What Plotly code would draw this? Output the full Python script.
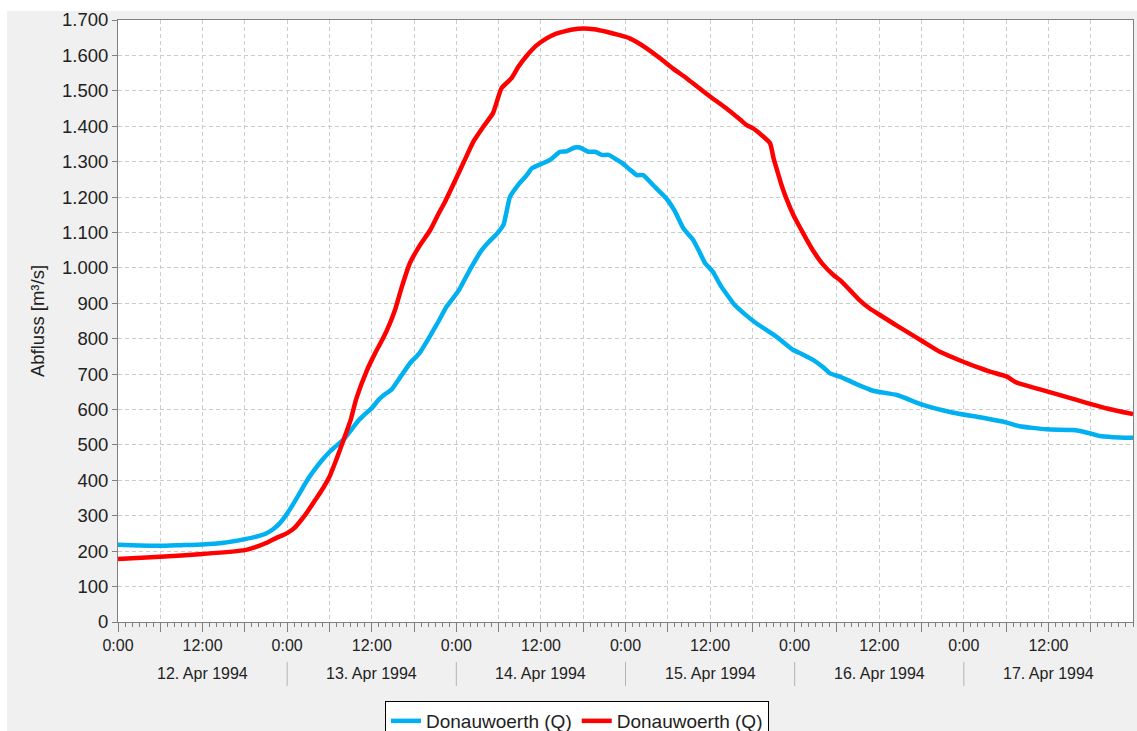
import pandas as pd
import plotly.graph_objects as go

# ---- data (hours since 12 Apr 1994 0:00, discharge m³/s) ----
blue_hours = [0, 3, 6, 9, 12, 15, 18, 20, 21, 22, 23, 24, 25, 26, 27, 28, 29, 30, 31, 32, 33, 34, 35, 36,
              37, 38, 38.8, 40, 41.4, 42.8, 44.2, 45.5, 46.6, 48.3, 49.9, 51.6, 52.7, 53.7, 54.7, 55.6,
              57.0, 58.0, 58.7, 60.0, 61.3, 62.2, 62.7, 63.6, 64.8, 65.5, 66.7, 67.7, 68.6, 69.6, 70.8,
              71.6, 72.6, 73.6, 74.5, 76.0, 77.8, 79.0, 80.2, 81.6, 82.5, 83.3, 84.4, 85.5, 87.5, 89.0,
              90.6, 93.4, 95.8, 97.0, 98.6, 100.0, 101.0, 102.4, 104.3, 107.1, 110.5, 114.2, 118.5,
              122.3, 126.1, 127.9, 131.7, 135.5, 137.4, 139.3, 141.2, 144]
blue_q = [218, 216, 215, 217, 219, 224, 234, 243, 250, 262, 280, 306, 338, 372, 405, 433, 458, 480, 498, 515,
          540, 566, 586, 604, 628, 645, 656, 690, 730, 760, 805, 850, 890, 935, 994, 1050, 1075, 1095, 1122,
          1200, 1240, 1262, 1281, 1293, 1305, 1320, 1328, 1329, 1340, 1340, 1328, 1328, 1319, 1319, 1305,
          1295, 1278, 1262, 1262, 1232, 1196, 1160, 1112, 1079, 1045, 1013, 989, 950, 895, 868, 843, 806,
          768, 757, 740, 720, 702, 693, 676, 653, 641, 613, 591, 578, 563, 553, 544, 542, 535, 525, 522, 520]

red_hours = [0, 6, 12, 18, 20, 21, 22, 23, 24, 25, 26, 27, 28, 29, 30, 31, 32, 33, 33.8, 35.3, 36.5, 37.6,
             38.5, 39.3, 40.2, 41.4, 42.8, 44.3, 45.4, 46.4, 48.1, 49.2, 50.4, 51.8, 53.2, 54.4, 55.8, 56.8,
             57.9, 59.3, 60.8, 62.0, 63.2, 64.5, 66.0, 67.5, 69.3, 71.0, 72.6, 75.0, 76.9, 78.8, 80.7, 82.3,
             84.0, 86.2, 88.3, 89.2, 90.1, 91.3, 92.5, 93.0, 93.5, 94.2, 94.9, 95.8, 96.7, 97.7, 98.7, 100.0,
             101.5, 102.4, 103.8, 105.2, 106.6, 108.1, 110.0, 111.9, 114.2, 116.6, 119.9, 121.9, 123.7,
             126.1, 127.5, 130.8, 135.5, 140.3, 144]
red_q = [178, 184, 192, 203, 215, 223, 233, 242, 251, 265, 288, 315, 345, 375, 410, 460, 514, 570, 630, 710,
         760, 801, 840, 881, 942, 1013, 1063, 1107, 1150, 1187, 1258, 1305, 1356, 1398, 1437, 1507, 1535,
         1568, 1597, 1627, 1648, 1660, 1667, 1673, 1676, 1674, 1667, 1658, 1648, 1620, 1592, 1562, 1535,
         1510, 1484, 1452, 1418, 1403, 1394, 1375, 1352, 1310, 1276, 1230, 1192, 1150, 1116, 1080, 1046,
         1010, 980, 966, 938, 909, 886, 867, 843, 820, 792, 763, 735, 720, 707, 693, 676, 657, 630, 603, 587]

series_name = "Donauwoerth (Q)"
day_labels = ["12. Apr 1994", "13. Apr 1994", "14. Apr 1994", "15. Apr 1994", "16. Apr 1994", "17. Apr 1994"]
y_title = "Abfluss [m³/s]"

start = pd.Timestamp("1994-04-12 00:00")
end = pd.Timestamp("1994-04-18 00:00")
blue_t = [start + pd.Timedelta(hours=h) for h in blue_hours]
red_t = [start + pd.Timedelta(hours=h) for h in red_hours]

FONT = "Arial, 'Liberation Sans', sans-serif"
TXT = "#222222"
W, H = 1137, 731
ML, MR, MT, MB = 118, 4, 20, 109
plot_w = W - ML - MR
plot_h = H - MT - MB

def py(fig_y):
    return (H - MB - fig_y) / plot_h

def px(fig_x):
    return (fig_x - ML) / plot_w

fig = go.Figure()
fig.add_trace(go.Scatter(x=blue_t, y=blue_q, mode="lines", name=series_name,
                         line=dict(color="#00b0f0", width=4.5, shape="spline", smoothing=0.4)))
fig.add_trace(go.Scatter(x=red_t, y=red_q, mode="lines", name=series_name,
                         line=dict(color="#ff0000", width=4.5, shape="spline", smoothing=0.5)))

tickvals = pd.date_range(start, end - pd.Timedelta(hours=6), freq="6h")
ticktext = [("0:00" if t.hour == 0 else "12:00" if t.hour == 12 else "") for t in tickvals]

# white page border around the grey panel (top and left)
shapes = [
    dict(type="rect", xref="paper", yref="paper", x0=px(0), x1=px(W), y0=py(11), y1=py(0),
         fillcolor="#ffffff", line=dict(width=0), layer="above"),
    dict(type="rect", xref="paper", yref="paper", x0=px(0), x1=px(7), y0=py(H), y1=py(0),
         fillcolor="#ffffff", line=dict(width=0), layer="above"),
]
annotations = []
days = pd.date_range(start, end - pd.Timedelta(days=1), freq="D")
for i, d in enumerate(days):
    annotations.append(dict(x=d + pd.Timedelta(hours=12), y=py(674), xref="x", yref="paper",
                            text=day_labels[i], showarrow=False, xanchor="center", yanchor="middle",
                            font=dict(family=FONT, size=16, color=TXT)))
    if i > 0:
        shapes.append(dict(type="line", xref="x", yref="paper", x0=d, x1=d, y0=py(662), y1=py(686),
                           line=dict(color="#b4b4b4", width=1)))

fig.update_layout(
    width=W, height=H,
    margin=dict(l=ML, r=MR, t=MT, b=MB, autoexpand=False),
    paper_bgcolor="#f0f0f0", plot_bgcolor="#ffffff",
    separators=",.",
    font=dict(family=FONT, color=TXT),
    showlegend=True,
    legend=dict(orientation="h", x=px(577), xanchor="center", y=py(701), yanchor="top",
                bgcolor="#ffffff", bordercolor="#000000", borderwidth=1,
                font=dict(family=FONT, size=19, color=TXT), itemwidth=30),
    shapes=shapes, annotations=annotations,
    xaxis=dict(type="date", range=[start, end], tickvals=tickvals, ticktext=ticktext,
               ticks="outside", ticklen=9, tickcolor="#808080", tickwidth=1,
               showgrid=True, gridcolor="#cccccc", griddash="4px,3px", gridwidth=1,
               showline=True, linecolor="#808080", linewidth=1, mirror=True,
               tickfont=dict(family=FONT, size=16, color=TXT), tickangle=0,
               minor=dict(dtick=3600000, tick0=start, ticks="outside", ticklen=4,
                          tickcolor="#808080", showgrid=False),
               zeroline=False),
    yaxis=dict(range=[0, 1700], dtick=100, tick0=0, tickformat=",d",
               ticks="outside", ticklen=5, tickcolor="#808080",
               showgrid=True, gridcolor="#cccccc", griddash="4px,3px", gridwidth=1,
               showline=True, linecolor="#808080", linewidth=1, mirror=True,
               tickfont=dict(family=FONT, size=18.5, color=TXT), zeroline=False,
               title=dict(text=y_title, font=dict(family=FONT, size=18.5, color=TXT), standoff=12)),
)

fig.write_html("out.html", config={"displayModeBar": False},
               post_script="document.body.style.margin='0';document.body.style.overflow='hidden';")
